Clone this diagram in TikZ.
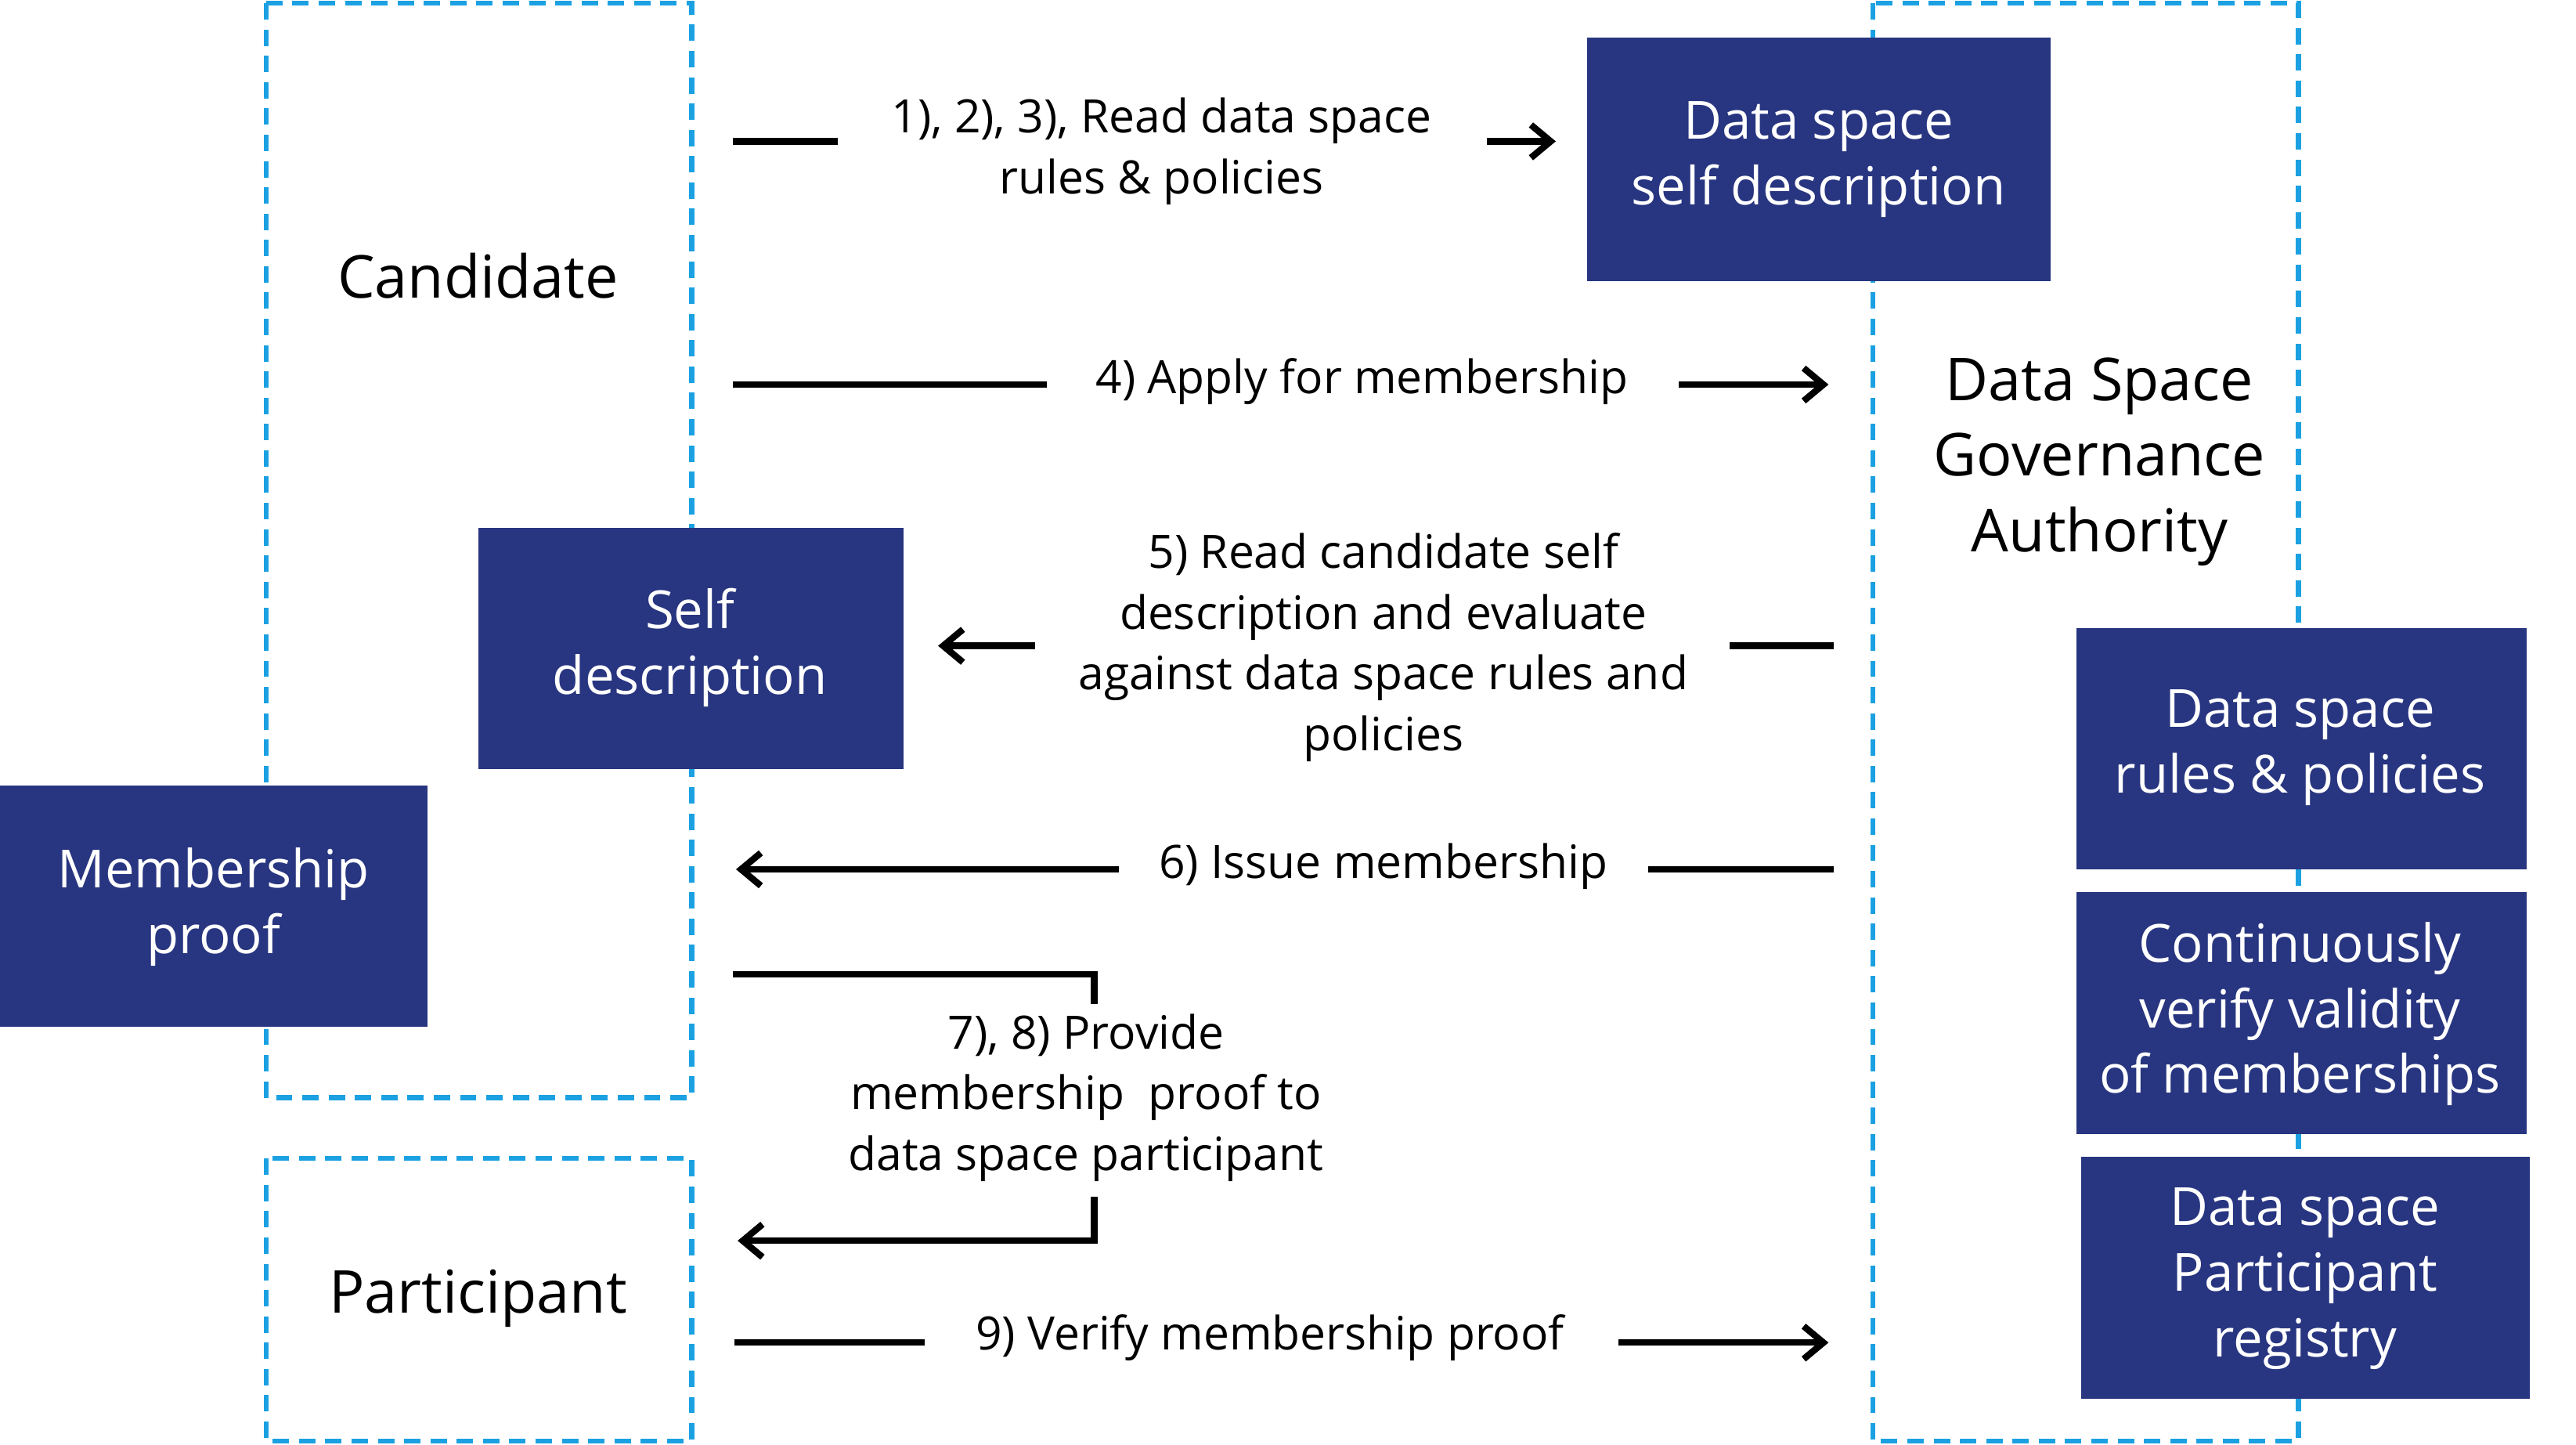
\documentclass[tikz,border=0pt]{standalone}
\usepackage{fontspec}
\setmainfont{Open Sans}
\usetikzlibrary{arrows.meta}
\definecolor{navy}{HTML}{283580}
\definecolor{dcyan}{HTML}{1BA1E2}
\begin{document}
\begin{tikzpicture}[x=0.5pt,y=-0.5pt,
  dbox/.style={draw=dcyan,line width=1.5pt,dash pattern=on 5pt off 3pt},
  nb/.style={fill=navy,draw=none},
  nt/.style={text=white,font=\fontsize{16}{20}\selectfont,align=center},
  lt/.style={font=\fontsize{14}{18.5}\selectfont,align=center},
  bt/.style={font=\fontsize{18}{23}\selectfont,align=center},
  ln/.style={line width=2pt},
  ar/.style={line width=2pt,-{Straight Barb[length=6pt,width=10pt,line width=2pt]}}]
\useasboundingbox (0,0) rectangle (1568,879);
% dashed boxes
\draw[dbox] (162,2) rectangle (421,668);
\draw[dbox] (162,705) rectangle (421,877);
\draw[dbox] (1140,2) rectangle (1399,877);
% navy boxes
\fill[nb] (966,23) rectangle (1248,171);
\node[nt] (dssd) at (1107,97) {Data space\\self description};
\fill[nb] (291,321) rectangle (550,468);
\node[nt] (sd) at (420,394) {Self\\description};
\fill[nb] (0,478) rectangle (260,625);
\node[nt] (mp) at (130,552) {Membership\\proof};
\fill[nb] (1264,382) rectangle (1538,529);
\node[nt] (rp) at (1400,455) {Data space\\rules \& policies};
\fill[nb] (1264,543) rectangle (1538,690);
\node[nt] (cv) at (1400,617) {Continuously\\verify validity\\of memberships};
\fill[nb] (1267,704) rectangle (1540,851);
\node[nt] (reg) at (1403,778) {Data space\\Participant\\registry};
% big labels
\node[bt] (cand) at (291,168) {Candidate};
\node[bt] (part) at (291,790) {Participant};
\node[bt] (dsga) at (1278,281) {Data Space\\Governance\\Authority};
% step 1-3
\coordinate (a1) at (446,86); \coordinate (a2) at (510,86);
\coordinate (a3) at (905,86); \coordinate (a4) at (947,86);
\draw[ln] (a1) -- (a2);
\node[lt] (l1) at (707,92) {1), 2), 3), Read data space\\rules \& policies};
\draw[ar] (a3) -- (a4);
% step 4
\coordinate (b1) at (446,234); \coordinate (b2) at (637,234);
\coordinate (b3) at (1022,234); \coordinate (b4) at (1113,234);
\draw[ln] (b1) -- (b2);
\node[lt] (l4) at (829,232) {4) Apply for membership};
\draw[ar] (b3) -- (b4);
% step 5
\coordinate (c1) at (1116,393); \coordinate (c2) at (1053,393);
\coordinate (c3) at (630,393); \coordinate (c4) at (571,393);
\draw[ln] (c1) -- (c2);
\node[lt] (l5) at (842,394) {5) Read candidate self\\description and evaluate\\against data space rules and\\policies};
\draw[ar] (c3) -- (c4);
% step 6
\coordinate (d1) at (1116,529); \coordinate (d2) at (1003,529);
\coordinate (d3) at (681,529); \coordinate (d4) at (448,529);
\draw[ln] (d1) -- (d2);
\node[lt] (l6) at (842,527) {6) Issue membership};
\draw[ar] (d3) -- (d4);
% step 7-8
\coordinate (e1) at (446,593); \coordinate (e2) at (666,593); \coordinate (e3) at (666,611);
\coordinate (e4) at (666,728); \coordinate (e5) at (666,755); \coordinate (e6) at (449,755);
\draw[ln] (e1) -- (e2) -- (e3);
\node[lt] (l7) at (661,668) {7), 8) Provide\\membership\ \ proof to\\data space participant};
\draw[ar] (e4) -- (e5) -- (e6);
% step 9
\coordinate (f1) at (447,817); \coordinate (f2) at (563,817);
\coordinate (f3) at (985,817); \coordinate (f4) at (1113,817);
\draw[ln] (f1) -- (f2);
\node[lt] (l9) at (773,814) {9) Verify membership proof};
\draw[ar] (f3) -- (f4);
\end{tikzpicture}
\end{document}
